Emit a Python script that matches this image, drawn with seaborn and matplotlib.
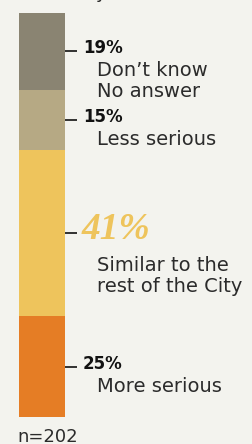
import matplotlib
matplotlib.use("Agg")
import matplotlib.pyplot as plt
from matplotlib.transforms import offset_copy
import numpy as np
import seaborn as sns

# Data, bottom to top of the stacked bar
labels = ["More serious", "Similar to the\nrest of the City", "Less serious", "Don\u2019t know\nNo answer"]
values = [25, 41, 15, 19]
colors = ["#E57D25", "#EEC45C", "#B6A984", "#8A8472"]
n_label = "n=202"

W, H = 252, 444
bg = "#F3F3EE"

sns.set_style("white")
plt.rcParams["font.family"] = ["DejaVu Sans"]

fig = plt.figure(figsize=(W / 100, H / 100), dpi=100)
fig.patch.set_facecolor(bg)

# axes spans the full width; bar from y=13px to y=417px (from top)
bar_top, bar_bot = 13, 417
ax = fig.add_axes([0, (H - bar_bot) / H, 1, (bar_bot - bar_top) / H])
ax.set_facecolor("none")

# stacked bar: draw cumulative totals from largest to smallest
cum = np.cumsum(values)
for total, col in zip(cum[::-1], colors[::-1]):
    sns.barplot(x=["all"], y=[total], color=col, width=1, saturation=1,
                linewidth=0, edgecolor=col, ax=ax)

px = 46  # pixels per x-unit (bar width)
ax.set_xlim(-0.5 - 19 / px, 0.5 + (W - 65) / px)
ax.set_ylim(0, 100)
ax.axis("off")

starts = cum - np.array(values)
mids = starts + np.array(values) / 2

for i, (lab, v, m) in enumerate(zip(labels, values, mids)):
    ax.plot([0.5, 0.5 + 12 / px], [m, m], color="#222222", lw=1.3, solid_capstyle="butt")
    big = v == max(values)
    if big:
        tr = offset_copy(ax.transData, fig=fig, x=0, y=-6, units="dots")
        ax.text(0.5 + 17 / px, m, f"{v}%", transform=tr, va="baseline", ha="left",
                fontsize=27, fontweight="bold", fontstyle="italic",
                family="Liberation Serif", color=colors[i])
        off = -38
    else:
        tr = offset_copy(ax.transData, fig=fig, x=0, y=-2, units="dots")
        ax.text(0.5 + 18 / px, m, f"{v}%", transform=tr, va="baseline", ha="left",
                fontsize=12, fontweight="bold", color="#111111")
        off = -25
    for k, line in enumerate(lab.split("\n")):
        tr2 = offset_copy(ax.transData, fig=fig, x=0, y=off - 20.5 * k, units="dots")
        ax.text(0.5 + 32 / px, m, line, transform=tr2, va="baseline", ha="left",
                fontsize=14, color="#2b2b2b")

fig.text(17 / W, 1 - 441.5 / H, n_label, fontsize=13, color="#2b2b2b",
         ha="left", va="baseline")
# clipped descender of the title above
fig.text(96 / W, 1 + 2 / H, "y", fontsize=13, color="#2b2b2b", ha="left", va="baseline")

fig.savefig("out.png", dpi=100, facecolor=bg)
